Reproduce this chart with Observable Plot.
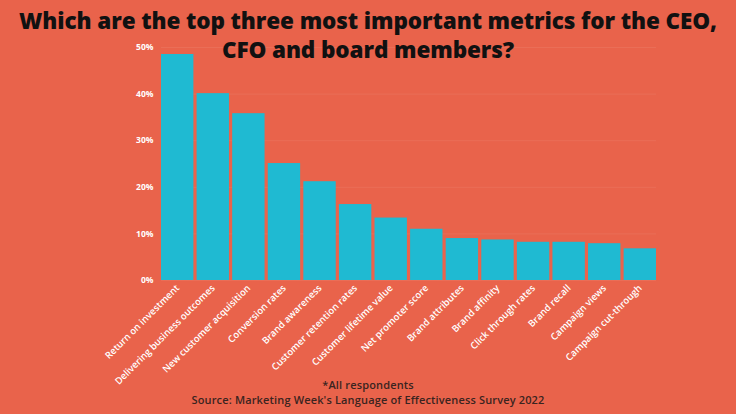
<!DOCTYPE html>
<html>
<head>
<meta charset="utf-8">
<script src="https://cdn.jsdelivr.net/npm/d3@7"></script>
<script src="https://cdn.jsdelivr.net/npm/@observablehq/plot@0.6"></script>
<style>
  html, body { margin: 0; padding: 0; background: #E9634B; }
  #wrap { position: relative; width: 736px; height: 414px; overflow: hidden; background: #E9634B; }
  #title { position: absolute; left: 0; top: 6px; width: 736px; text-align: center; font-family: "Open Sans", sans-serif; font-weight: 800; font-size: 22.5px; line-height: 29px; color: #111; letter-spacing: -0.1px; }
  #caption { position: absolute; left: 0; top: 377px; width: 736px; text-align: center; font-family: "Open Sans", sans-serif; font-weight: 600; font-size: 11px; line-height: 15px; color: #3a2420; letter-spacing: 0.15px; }
  #chart { position: absolute; left: 0; top: 0; }
</style>
</head>
<body>
<div id="wrap">
  <div id="chart"></div>
  <div id="title">Which are the top three most important metrics for the CEO,<br>CFO and board members?</div>
  <div id="caption">*All respondents<br>Source: Marketing Week's Language of Effectiveness Survey 2022</div>
</div>
<script>
const metrics = [
  "Return on investment",
  "Delivering business outcomes",
  "New customer acquisition",
  "Conversion rates",
  "Brand awareness",
  "Customer retention rates",
  "Customer lifetime value",
  "Net promoter score",
  "Brand attributes",
  "Brand affinity",
  "Click through rates",
  "Brand recall",
  "Campaign views",
  "Campaign cut-through"
];
const shares = [48.5, 40.1, 35.8, 25.1, 21.2, 16.3, 13.4, 11.0, 9.0, 8.7, 8.2, 8.2, 7.9, 6.8];
const yTicks = [0, 10, 20, 30, 40, 50];

const data = metrics.map((m, i) => ({metric: m, share: shares[i]}));

const chart = Plot.plot({
  width: 736,
  height: 414,
  marginTop: 47,
  marginBottom: 134,
  marginLeft: 161,
  marginRight: 80,
  style: {background: "transparent", fontFamily: "'Open Sans', sans-serif", color: "#fff", overflow: "visible"},
  x: {domain: metrics, paddingInner: 0.09, paddingOuter: 0, round: false, label: null},
  y: {domain: [0, 50], label: null},
  marks: [
    Plot.ruleY(yTicks, {stroke: "#ffffff", strokeOpacity: 0.07}),
    Plot.barY(data, {x: "metric", y: "share", fill: "#1FBAD2"}),
    Plot.axisY(yTicks, {tickSize: 0, tickPadding: 8, tickFormat: d => d + "%", fontSize: 8.5, fontWeight: 700, fill: "#fff", label: null}),
    Plot.axisX({tickSize: 0, tickPadding: 6, tickRotate: -45, fontSize: 9.5, fontWeight: 600, fill: "#fff", label: null})
  ]
});
document.getElementById("chart").appendChild(chart);
</script>
</body>
</html>
